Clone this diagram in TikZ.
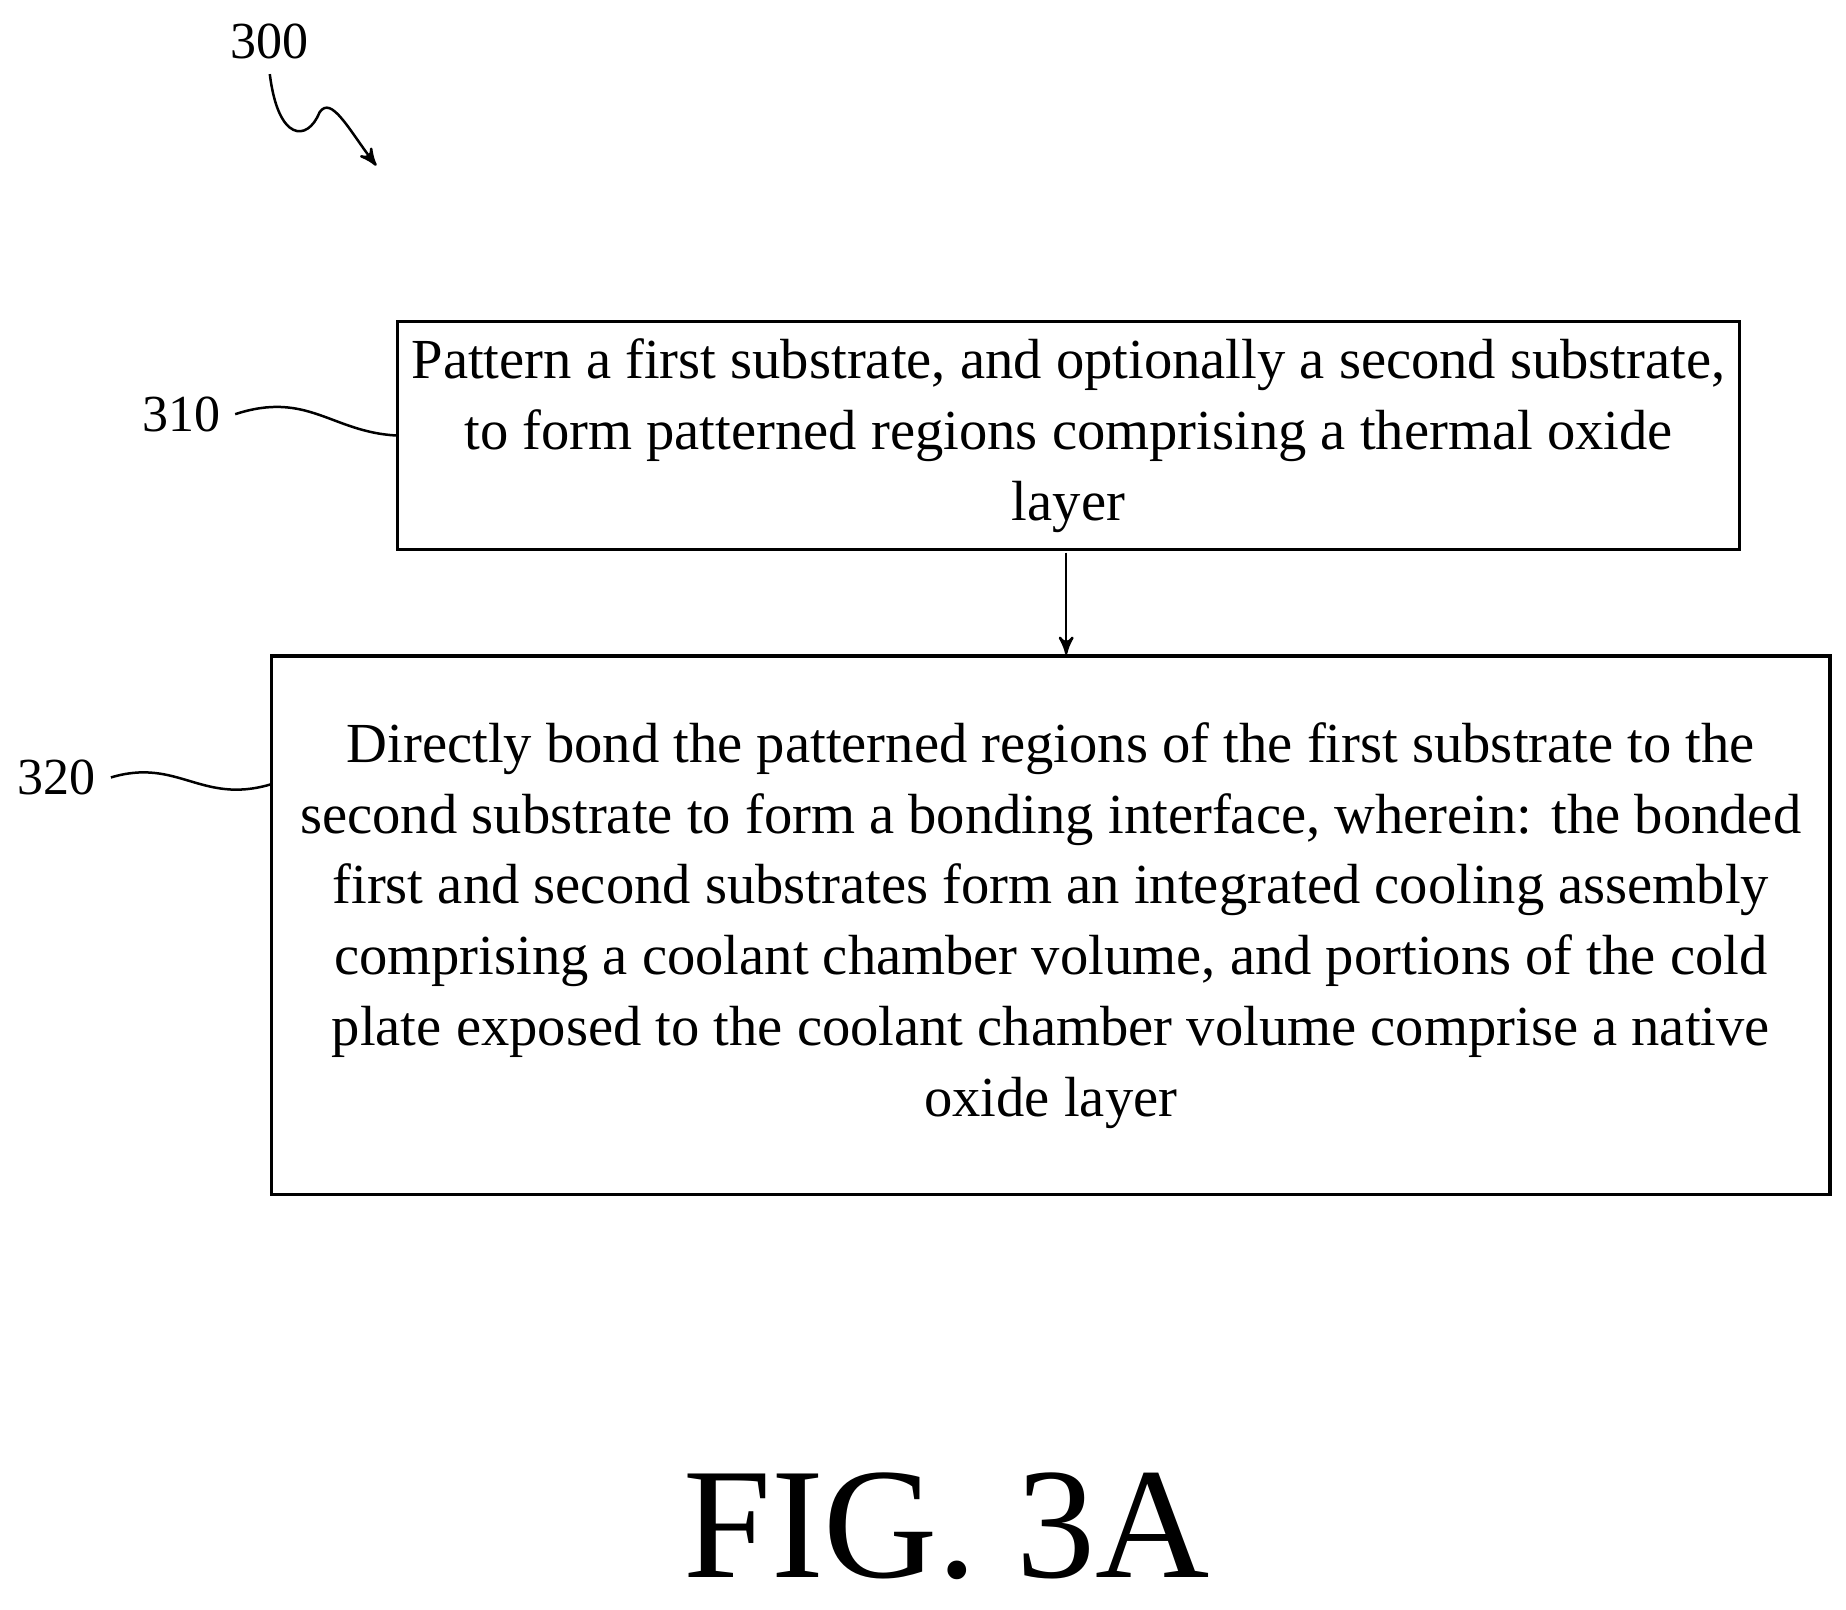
\documentclass[tikz,border=0pt]{standalone}
\usepackage{fontspec}
\setmainfont{Liberation Serif}
\usetikzlibrary{arrows,positioning}

\begin{document}
\begin{tikzpicture}[x=0.01cm,y=-0.01cm,>=stealth',semithick,
  flowbox/.style={draw,thick,align=center,font=\fontsize{13.6}{17}\selectfont},
  ref/.style={font=\fontsize{12.5}{14}\selectfont}]
  \useasboundingbox (0,0) rectangle (1560,1360);
  \node[flowbox,minimum width=11.32cm,minimum height=1.93cm] (s310) at (903,368)
    {Pattern a first substrate, and optionally a second substrate,\\
     to form patterned regions comprising a thermal oxide\\ layer};
  \node[flowbox,minimum width=13.16cm,minimum height=4.55cm] (s320) at (888,782)
    {Directly bond the patterned regions of the first substrate to the\\
     second substrate to form a bonding interface, wherein: the bonded\\
     first and second substrates form an integrated cooling assembly\\
     comprising a coolant chamber volume, and portions of the cold\\
     plate exposed to the coolant chamber volume comprise a native\\
     oxide layer};
  \node[ref] (l300) at (228,35) {300};
  \node[ref] (l310) at (153,350) {310};
  \node[ref] (l320) at (48,657) {320};
  \node[font=\fontsize{38}{44}\selectfont] (fig) at (800,1290) {FIG. 3A};

  \draw[->] (901,467) -- (s320.north -| 901,0);
  \draw (l310.east) .. controls (260,330) and (280,365) .. (s310.west);
  \draw (l320.east) .. controls (150,640) and (170,680) .. (s320.west |- 0,663);
  \draw[->] (l300.south) .. controls (235,120) and (260,120) .. (270,95)
    .. controls (280,80) and (295,110) .. (318,140);
\end{tikzpicture}
\end{document}
